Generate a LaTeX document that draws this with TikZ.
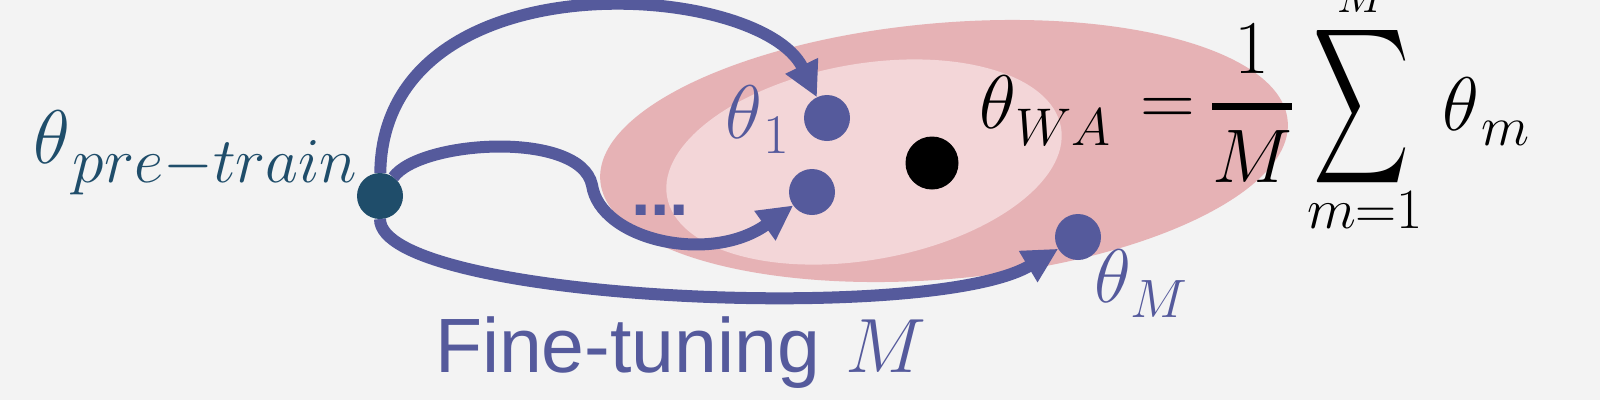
\RequirePackage{fix-cm}
\documentclass[tikz,border=0pt]{standalone}
\usepackage{amsmath}
\usepackage{graphicx}
\usepackage{fontspec}
\newfontfamily\arialf{Liberation Sans}
\usetikzlibrary{arrows.meta}
\definecolor{bgc}{HTML}{F3F3F3}
\definecolor{outerpink}{HTML}{E6B2B5}
\definecolor{innerpink}{HTML}{F3D6D8}
\definecolor{ftblue}{HTML}{555A9C}
\definecolor{pretealc}{HTML}{1F4D6A}
\newcommand\myfs[1]{\fontsize{#1}{#1}\selectfont}
\begin{document}
\begin{tikzpicture}[x=1pt,y=-1pt,
  conn/.style={draw=ftblue, line width=12pt, -{Triangle[length=35pt,width=34pt]}},
  dotnode/.style={circle, fill=ftblue, inner sep=0pt, outer sep=0pt, minimum size=46pt},
  lbl/.style={inner sep=0pt, outer sep=0pt, anchor=base west},
  lblc/.style={inner sep=0pt, outer sep=0pt, anchor=base}]
\useasboundingbox (0,0) rectangle (1600,400);
\fill[bgc] (0,0) rectangle (1600,400);
\fill[outerpink, rotate around={5:(944,151)}] (944,151) ellipse [x radius=345, y radius=128];
\fill[innerpink, rotate around={10:(864,162)}] (864,162) ellipse [x radius=200, y radius=98];
% dots
\node[dotnode, fill=pretealc] (pre) at (380,196) {};
\node[dotnode] (d1) at (827,118) {};
\node[dotnode] (dmid) at (812,192) {};
\node[dotnode] (dM) at (1078,237) {};
\node[dotnode, fill=black, minimum size=53pt] (dwa) at (932,163) {};
% connectors
\draw[conn] (pre) .. controls (383,-45) and (760,-20) .. (d1);
\draw[conn] (pre) .. controls (420,140) and (580,130) .. (592,185) .. controls (600,240) and (710,265) .. (dmid);
\draw[conn] (pre) .. controls (380,300) and (930,325) .. (dM);
% labels
\node[lbl, text=pretealc] (lpre) at (33,163) {\myfs{76}$\theta$\kern3pt\raisebox{-19pt}{\myfs{64}$pre{-}train$}};
\node[lbl, text=ftblue] (l1) at (725,138) {\myfs{76}$\theta$\kern2pt\raisebox{-15pt}{\myfs{56}$1$}};
\node[lbl, text=ftblue] (lM) at (1094,302) {\myfs{76}$\theta$\raisebox{-15pt}{\myfs{54}$M$}};
\node[lbl, text=ftblue] (ldots) at (631,215) {\arialf\bfseries\myfs{70}...};
\node[lbl, text=ftblue] (lft) at (435,372) {\arialf\myfs{77}Fine-tuning \kern4pt$M$};
% formula
\node[lbl] (lwa) at (979,128) {\myfs{76}$\theta$\raisebox{-17pt}{\myfs{53}$WA$}};
\node[lbl] (leq) at (1140,125) {\myfs{76}$=$};
\node[lblc] (lfrac) at (1252,125) {\myfs{76}$\genfrac{}{}{7pt}{0}{1}{M}$};
\node[inner sep=0pt] (lsum) at (1362,107) {\resizebox*{96pt}{174pt}{$\displaystyle\sum$}};
\node[lblc] (lup) at (1361,12) {\myfs{46}$M$};
\node[lblc] (llo) at (1365,228) {\myfs{57}$m{=}1$};
\node[lbl] (lm) at (1442,130) {\myfs{76}$\theta$\kern3pt\raisebox{-15pt}{\myfs{56}$m$}};
\end{tikzpicture}
\end{document}
